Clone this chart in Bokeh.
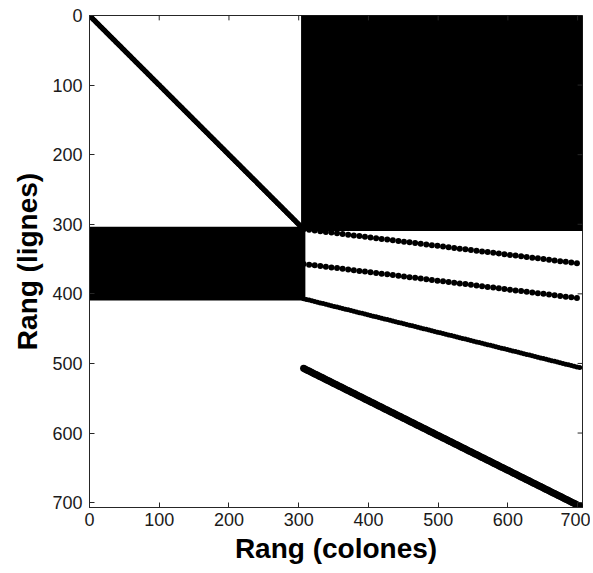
import numpy as np
from bokeh.plotting import figure
from bokeh.models import Range1d, FixedTicker
from bokeh.embed import file_html
from bokeh.resources import INLINE

# Sparse-matrix structure (spy plot), 1-based row/column indices
n_size = 706
x_ticks = [0, 100, 200, 300, 400, 500, 600, 700]
y_ticks = [0, 100, 200, 300, 400, 500, 600, 700]

# diagonal block: rows/cols 1..306
diag_first = 1
diag_last = 306

# dense blocks: (row_first, row_last, col_first, col_last)
block_rows_first = [1, 307]
block_rows_last = [306, 406]
block_cols_first = [307, 1]
block_cols_last = [706, 306]

# sloped bands: one nonzero per row, column advances by col_step each row
band_rows_first = [307, 357, 407, 507]
band_rows_last = [356, 406, 506, 706]
band_col_first = [307, 307, 307, 307]
band_col_step = [8, 8, 4, 2]

p = figure(width=590, height=570, output_backend="svg", toolbar_location=None,
           x_range=Range1d(0, n_size + 1), y_range=Range1d(n_size + 1, 0),
           min_border_left=89, min_border_right=8, min_border_top=15, min_border_bottom=63)
p.background_fill_color = "white"
p.border_fill_color = "white"
p.grid.visible = False
p.outline_line_color = "#262626"
p.outline_line_width = 1

# dense blocks: quads through the centre points, stroked to the marker radius
p.quad(left=block_cols_first, right=block_cols_last,
       top=block_rows_first, bottom=block_rows_last,
       fill_color="black", line_color="black", line_width=5, line_join="round")

# diagonal
d = np.arange(diag_first, diag_last + 1)
p.scatter(x=d, y=d, size=5, marker="circle", fill_color="black", line_color=None)

# bands
for rf, rl, cf, st in zip(band_rows_first, band_rows_last, band_col_first, band_col_step):
    r = np.arange(rf, rl + 1)
    c = cf + st * (r - rf)
    sz = {8: 6, 4: 5, 2: 7}[st]
    p.scatter(x=c, y=r, size=sz, marker="circle", fill_color="black", line_color=None)

# box ticks on top and right edges (inward)
tick_len = 7
p.segment(x0=x_ticks, y0=[0] * len(x_ticks), x1=x_ticks, y1=[tick_len] * len(x_ticks),
          line_color="#262626", line_width=1)
p.segment(x0=[n_size + 1] * len(y_ticks), y0=y_ticks, x1=[n_size + 1 - tick_len] * len(y_ticks),
          y1=y_ticks, line_color="#262626", line_width=1)

font = "Liberation Sans"
for ax in [p.xaxis[0], p.yaxis[0]]:
    ax.major_tick_in = 5
    ax.major_tick_out = 0
    ax.minor_tick_line_color = None
    ax.axis_line_color = "#262626"
    ax.major_tick_line_color = "#262626"
    ax.major_label_text_font = font
    ax.major_label_text_font_size = "18px"
    ax.major_label_text_color = "#1a1a1a"
    ax.axis_label_text_font = font
    ax.axis_label_text_font_size = "28px"
    ax.axis_label_text_font_style = "bold"
    ax.axis_label_text_color = "black"

p.xaxis[0].ticker = FixedTicker(ticks=x_ticks)
p.yaxis[0].ticker = FixedTicker(ticks=y_ticks)
p.xaxis[0].axis_label = "Rang (colones)"
p.yaxis[0].axis_label = "Rang (lignes)"
p.xaxis[0].major_label_standoff = 5
p.yaxis[0].major_label_standoff = 7
p.xaxis[0].axis_label_standoff = 4
p.yaxis[0].axis_label_standoff = 6

open("out.html", "w").write(file_html(p, INLINE))
